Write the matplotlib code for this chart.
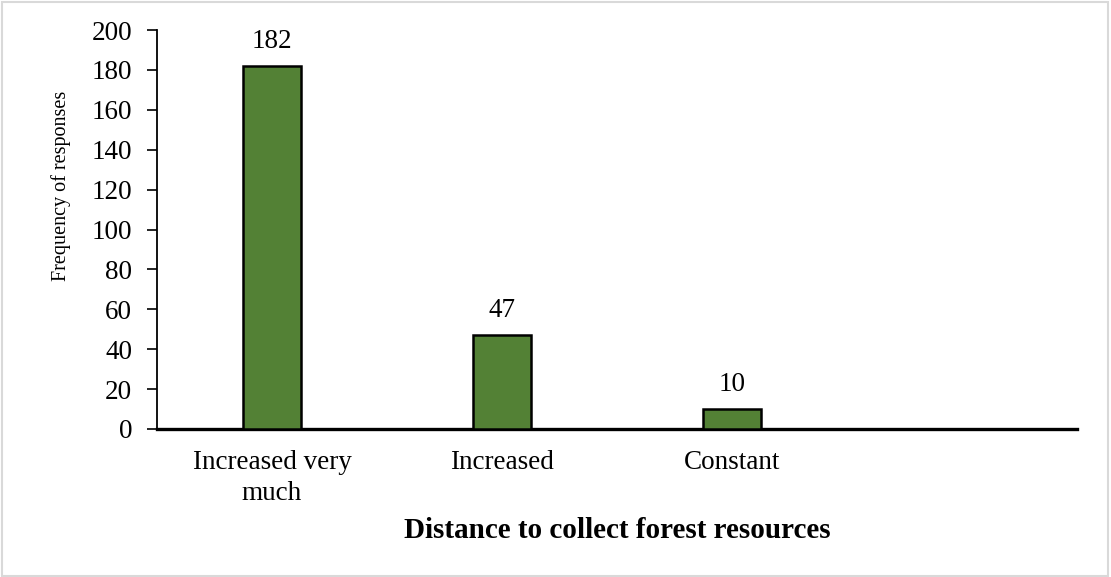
import matplotlib
matplotlib.use("Agg")
import matplotlib.pyplot as plt
from matplotlib.patches import Rectangle

categories = ["Increased very\nmuch", "Increased", "Constant", ""]
responses = [182, 47, 10, None]

W, H = 1111, 577
fig = plt.figure(figsize=(W / 100, H / 100), dpi=100)
plt.rcParams["font.family"] = ["Liberation Serif", "DejaVu Serif"]

ax = fig.add_axes([157 / W, 1 - 429 / H, (1077 - 157) / W, (429 - 30) / H])

xs = list(range(len(categories)))
vals = [v if v is not None else 0 for v in responses]
bars = ax.bar(xs, vals, width=0.255, color="#538135", edgecolor="black",
              linewidth=1.8, zorder=3)
for b, v in zip(bars, responses):
    if v is None:
        b.set_visible(False)
        continue
    ax.annotate(str(v), (b.get_x() + b.get_width() / 2, v),
                xytext=(0, 13), textcoords="offset points",
                ha="center", va="baseline", fontsize=19.5)

ax.set_xlim(-0.5, len(categories) - 0.5)
ax.set_ylim(0, 200)
ax.set_yticks(range(0, 201, 20))
ax.set_xticks(xs)
ax.set_xticklabels(categories, fontsize=19.5, linespacing=1.3)
ax.tick_params(axis="x", length=0, pad=15)
ax.tick_params(axis="y", length=7, width=1.2, labelsize=19.5, pad=11)

for s in ("top", "right"):
    ax.spines[s].set_visible(False)
ax.spines["left"].set_linewidth(1.3)
ax.spines["bottom"].set_linewidth(2.4)

fig.text(61 / W, 1 - 186 / H, "Frequency of responses", rotation=90,
         ha="center", va="center", fontsize=14.5)
fig.text(617 / W, 1 - 530 / H, "Distance to collect forest resources",
         ha="center", va="center", fontsize=21, fontweight="bold")

fig.patches.append(Rectangle((2 / W, 1 / H), (W - 5) / W, (H - 3) / H,
                             transform=fig.transFigure, fill=False,
                             edgecolor="#d9d9d9", linewidth=1.5))

fig.savefig("out.png", dpi=100)
